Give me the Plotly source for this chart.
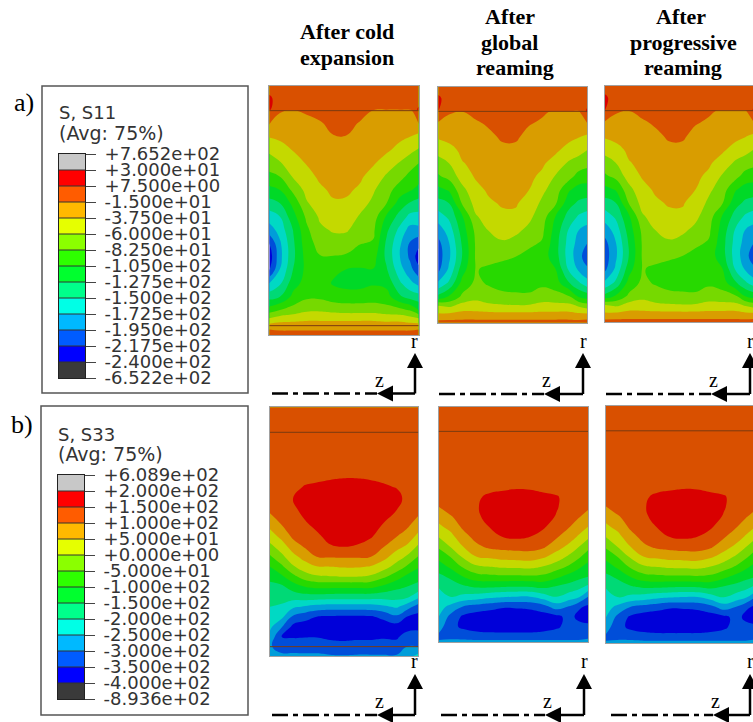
import numpy as np
import plotly.graph_objects as go

W, H = 753, 722

# Contour field values are given in legend-band units: integer k is the lower edge of
# the k-th coloured band counted from the bottom of the legend. Lists are per column.
S11_COLD_X = [28, 60, 100, 140, 180, 220, 260, 300, 340, 380, 420, 450, 476]
S11_COLD_Y = [18, 55, 89, 91, 130, 170, 210, 250, 290, 330, 370, 410, 450, 490, 530, 570, 610, 650, 690, 720, 745, 765]
S11_COLD = [
    [10.5, 11.2, 11.1, 10.4, 10.1, 9.05, 8.2, 7.5, 6.7, 5.7, 4.6, 3.5, 2.5, 1.0, 0.4, 0.9, 3.0, 4.6, 6.5, 8.3, 9.9, 10.5],
    [10.5, 10.5, 10.3, 10.1, 9.6, 9.2, 8.6, 7.9, 7.0, 6.0, 5.0, 4.0, 3.4, 2.85, 2.7, 3.05, 3.85, 5.0, 7.0, 8.7, 9.8, 10.4],
    [10.5, 10.5, 10.2, 10.0, 9.7, 9.4, 9.05, 8.6, 8.1, 7.25, 6.3, 5.65, 5.05, 4.85, 4.8, 5.05, 5.6, 6.3, 7.4, 8.8, 9.8, 10.4],
    [10.5, 10.5, 10.3, 10.1, 9.8, 9.6, 9.35, 9.05, 8.7, 8.3, 7.9, 7.2, 6.8, 6.6, 6.4, 6.3, 6.4, 6.8, 7.8, 8.9, 9.8, 10.4],
    [10.5, 10.5, 10.5, 10.4, 9.9, 9.75, 9.55, 9.35, 9.15, 8.85, 8.5, 8.15, 7.8, 7.35, 6.95, 6.6, 6.5, 6.8, 7.85, 8.9, 9.8, 10.4],
    [10.5, 10.5, 10.5, 10.5, 10.3, 9.95, 9.8, 9.6, 9.35, 9.15, 8.9, 8.45, 8.1, 7.6, 6.95, 6.2, 5.9, 6.5, 7.7, 8.9, 9.8, 10.4],
    [10.5, 10.5, 10.5, 10.5, 10.4, 9.95, 9.8, 9.6, 9.4, 9.15, 8.85, 8.5, 8.1, 7.5, 6.85, 5.95, 5.7, 6.4, 7.6, 8.9, 9.8, 10.4],
    [10.5, 10.5, 10.5, 10.5, 9.9, 9.75, 9.55, 9.35, 9.15, 8.85, 8.35, 7.9, 7.5, 7.05, 6.5, 5.9, 5.7, 6.4, 7.6, 8.9, 9.8, 10.4],
    [10.5, 10.5, 10.2, 10.0, 9.85, 9.6, 9.35, 9.1, 8.6, 8.1, 7.8, 7.5, 7.2, 6.9, 6.4, 5.95, 5.9, 6.5, 7.6, 8.9, 9.8, 10.4],
    [10.5, 10.5, 10.0, 9.95, 9.75, 9.5, 9.15, 8.55, 7.85, 7.4, 7.0, 5.85, 5.2, 4.8, 4.75, 5.1, 5.7, 6.4, 7.4, 8.8, 9.8, 10.4],
    [10.5, 10.5, 10.0, 9.9, 9.6, 9.2, 8.7, 7.9, 7.3, 6.5, 5.55, 4.6, 3.7, 3.15, 3.0, 3.4, 4.15, 5.15, 7.3, 8.8, 9.8, 10.4],
    [10.5, 10.5, 10.0, 9.9, 9.5, 9.0, 8.25, 7.45, 6.7, 6.1, 4.9, 3.7, 2.6, 1.9, 1.8, 2.4, 3.3, 4.6, 6.9, 8.6, 9.8, 10.4],
    [10.5, 10.5, 11.2, 10.4, 10.05, 8.65, 7.9, 7.0, 6.4, 5.7, 4.6, 3.65, 2.7, 1.3, 0.5, 1.3, 2.7, 4.4, 6.0, 8.4, 9.9, 10.5],
]

S11_REAM_X = [25, 57, 97, 137, 177, 217, 257, 297, 337, 377, 417, 447, 472]
S11_REAM_Y = [20, 55, 93, 95, 130, 170, 210, 250, 290, 330, 370, 410, 450, 490, 530, 570, 610, 650, 680, 705, 728]
S11_REAM = [
    [10.5, 11.2, 11.0, 10.4, 9.95, 9.15, 8.35, 7.6, 6.85, 5.7, 4.6, 3.5, 2.5, 1.7, 1.5, 1.8, 3.2, 5.3, 8.3, 9.2, 10.4],
    [10.5, 10.5, 10.2, 10.1, 9.7, 9.3, 8.7, 8.0, 7.3, 6.1, 5.0, 4.2, 3.45, 2.95, 2.8, 3.2, 4.2, 6.1, 7.9, 9.3, 10.4],
    [10.5, 10.5, 10.1, 10.0, 9.75, 9.5, 9.2, 8.95, 8.45, 7.7, 7.1, 5.9, 5.5, 5.15, 5.05, 5.6, 6.4, 7.2, 8.5, 9.4, 10.4],
    [10.5, 10.5, 10.3, 10.2, 9.9, 9.6, 9.4, 9.2, 9.1, 8.7, 8.35, 7.9, 7.25, 7.1, 7.1, 7.05, 7.2, 7.7, 8.5, 9.4, 10.4],
    [10.5, 10.5, 10.4, 10.4, 10.1, 9.85, 9.65, 9.45, 9.25, 9.15, 8.85, 8.4, 8.05, 7.6, 7.25, 6.85, 6.9, 7.4, 8.3, 9.4, 10.4],
    [10.5, 10.5, 10.5, 10.5, 10.4, 10.1, 9.85, 9.65, 9.5, 9.3, 9.1, 8.8, 8.3, 7.9, 7.2, 6.6, 6.6, 7.3, 8.2, 9.4, 10.4],
    [10.5, 10.5, 10.5, 10.5, 10.45, 10.1, 9.85, 9.65, 9.5, 9.3, 9.1, 8.8, 8.2, 7.7, 7.0, 6.5, 6.6, 7.2, 8.15, 9.4, 10.4],
    [10.5, 10.5, 10.5, 10.5, 10.05, 9.8, 9.6, 9.4, 9.2, 9.0, 8.6, 8.2, 7.8, 7.2, 6.7, 6.45, 6.55, 7.2, 8.2, 9.4, 10.4],
    [10.5, 10.5, 10.2, 10.1, 9.9, 9.65, 9.45, 9.15, 8.8, 8.2, 7.8, 7.5, 7.2, 6.9, 6.5, 6.35, 6.8, 7.5, 8.4, 9.4, 10.4],
    [10.5, 10.5, 10.0, 9.9, 9.8, 9.5, 9.2, 8.55, 7.9, 7.5, 7.1, 5.95, 5.6, 5.4, 5.45, 6.05, 6.5, 7.4, 8.4, 9.4, 10.4],
    [10.5, 10.5, 10.0, 9.9, 9.7, 9.3, 8.6, 7.85, 7.35, 6.1, 5.35, 4.6, 3.9, 3.6, 3.5, 3.9, 5.1, 7.1, 8.4, 9.4, 10.4],
    [10.5, 10.5, 10.0, 9.9, 9.6, 9.05, 8.3, 7.6, 6.55, 5.6, 4.8, 3.85, 3.0, 2.6, 2.4, 2.85, 4.15, 5.9, 8.0, 9.3, 10.4],
    [10.5, 10.5, 11.2, 11.1, 10.0, 8.8, 8.0, 7.3, 6.45, 5.55, 4.6, 3.55, 2.65, 2.0, 1.3, 2.25, 3.4, 5.6, 7.65, 9.3, 10.5],
]

S33_COLD_X = [30, 65, 100, 135, 170, 210, 250, 290, 330, 370, 410, 440, 475]
S33_COLD_Y = [22, 100, 180, 235, 260, 295, 330, 370, 410, 440, 470, 500, 530, 560, 590, 620, 650, 680, 710, 740, 768]
S33_COLD = [
    [10.5, 10.5, 10.5, 10.5, 10.5, 10.4, 10.2, 9.4, 8.5, 7.7, 6.85, 6.0, 5.25, 4.75, 4.4, 4.0, 3.6, 3.2, 2.7, 2.1, 2.5],
    [10.5, 10.5, 10.5, 10.5, 10.5, 10.5, 10.5, 10.1, 9.25, 8.5, 7.75, 6.8, 5.8, 4.8, 4.35, 3.85, 3.25, 2.1, 1.0, 1.6, 2.2],
    [10.5, 10.5, 10.5, 10.5, 10.6, 11.05, 10.8, 10.5, 10.2, 9.5, 8.7, 7.9, 6.7, 5.5, 4.45, 3.2, 1.8, 0.7, 0.9, 1.6, 2.2],
    [10.5, 10.5, 10.5, 10.6, 11.1, 11.5, 11.3, 10.9, 10.45, 10.1, 9.4, 8.55, 7.5, 6.0, 4.6, 2.9, 1.4, 0.5, 0.95, 1.5, 2.2],
    [10.5, 10.5, 10.5, 10.7, 11.3, 11.5, 11.5, 11.3, 10.8, 10.5, 10.0, 8.95, 7.85, 6.25, 4.6, 2.65, 1.0, 0.5, 0.95, 1.5, 2.2],
    [10.5, 10.5, 10.5, 10.9, 11.4, 11.5, 11.5, 11.5, 11.3, 10.9, 10.1, 9.0, 7.95, 6.25, 4.55, 2.5, 0.9, 0.4, 0.8, 1.4, 2.1],
    [10.5, 10.5, 10.5, 11.0, 11.5, 11.5, 11.5, 11.5, 11.5, 11.0, 10.1, 9.1, 8.0, 6.25, 4.5, 2.5, 0.85, 0.4, 0.7, 1.4, 2.05],
    [10.5, 10.5, 10.5, 11.0, 11.5, 11.5, 11.5, 11.5, 11.4, 10.9, 10.1, 9.1, 8.0, 6.25, 4.5, 2.5, 0.85, 0.4, 0.8, 1.4, 2.1],
    [10.5, 10.5, 10.5, 10.9, 11.4, 11.5, 11.5, 11.5, 11.1, 10.6, 10.05, 8.95, 7.85, 6.25, 4.5, 2.55, 0.9, 0.45, 0.8, 1.4, 2.1],
    [10.5, 10.5, 10.5, 10.7, 11.2, 11.5, 11.4, 11.0, 10.6, 10.05, 9.35, 8.45, 7.2, 5.8, 4.4, 2.8, 1.2, 0.55, 0.9, 1.4, 2.1],
    [10.5, 10.5, 10.5, 10.5, 10.9, 11.5, 11.0, 10.6, 10.0, 9.3, 8.5, 7.6, 6.4, 5.25, 4.4, 3.15, 1.8, 0.6, 0.85, 1.4, 2.1],
    [10.5, 10.5, 10.5, 10.5, 10.5, 10.6, 10.5, 10.3, 9.6, 8.85, 7.9, 6.9, 5.8, 5.0, 4.25, 2.5, 1.0, 0.6, 1.4, 2.0, 2.6],
    [10.5, 10.5, 10.5, 10.5, 10.5, 10.5, 10.3, 9.6, 8.7, 7.8, 6.95, 6.1, 5.4, 4.65, 3.3, 1.5, 0.7, 0.7, 1.5, 2.0, 3.3],
]

S33_REAM_X = [26, 60, 100, 140, 180, 220, 260, 300, 340, 380, 420, 445, 474]
S33_REAM_Y = [20, 90, 170, 265, 290, 320, 350, 380, 410, 440, 470, 500, 530, 560, 590, 620, 650, 680, 700, 720, 727]
S33_REAM = [
    [10.5, 10.5, 10.5, 10.5, 10.5, 10.0, 9.4, 8.8, 8.05, 7.15, 6.3, 5.5, 4.75, 4.05, 3.7, 3.4, 3.0, 2.4, 2.0, 2.0, 2.3],
    [10.5, 10.5, 10.5, 10.5, 10.5, 10.4, 9.9, 9.3, 8.65, 8.0, 7.0, 6.15, 5.15, 4.5, 4.0, 2.75, 1.75, 1.4, 1.6, 2.05, 2.3],
    [10.5, 10.5, 10.5, 10.5, 10.5, 10.5, 10.4, 10.2, 9.65, 9.0, 8.15, 7.15, 6.0, 4.85, 3.75, 1.95, 0.8, 0.75, 1.45, 2.05, 2.3],
    [10.5, 10.5, 10.5, 10.5, 10.7, 10.9, 10.8, 10.5, 10.35, 9.8, 9.0, 7.85, 6.6, 5.15, 3.55, 1.6, 0.5, 0.5, 1.2, 2.0, 2.3],
    [10.5, 10.5, 10.5, 10.5, 11.4, 11.5, 11.4, 11.05, 10.6, 10.2, 9.2, 8.0, 6.75, 5.15, 3.25, 1.35, 0.4, 0.4, 1.1, 2.0, 2.3],
    [10.5, 10.5, 10.5, 10.8, 11.5, 11.5, 11.5, 11.4, 11.05, 10.3, 9.4, 8.15, 6.8, 5.05, 3.1, 1.1, 0.3, 0.3, 1.1, 2.0, 2.3],
    [10.5, 10.5, 10.5, 10.95, 11.5, 11.5, 11.5, 11.5, 11.15, 10.4, 9.45, 8.2, 6.8, 5.0, 3.0, 1.15, 0.3, 0.3, 1.1, 2.0, 2.3],
    [10.5, 10.5, 10.5, 10.9, 11.5, 11.5, 11.5, 11.5, 11.0, 10.4, 9.5, 8.25, 6.85, 5.05, 3.0, 1.25, 0.35, 0.35, 1.1, 2.0, 2.3],
    [10.5, 10.5, 10.5, 10.6, 11.4, 11.5, 11.5, 11.1, 10.7, 10.15, 9.15, 7.95, 6.75, 5.25, 3.5, 1.65, 0.5, 0.5, 1.2, 2.0, 2.3],
    [10.5, 10.5, 10.5, 10.5, 11.1, 11.1, 10.9, 10.6, 10.1, 9.4, 8.55, 7.45, 6.2, 4.9, 4.1, 2.45, 0.75, 0.8, 1.4, 2.0, 2.3],
    [10.5, 10.5, 10.5, 10.5, 10.5, 10.4, 10.4, 10.0, 9.4, 8.7, 7.75, 6.8, 5.6, 4.6, 3.5, 1.9, 1.35, 1.5, 1.65, 2.0, 2.3],
    [10.5, 10.5, 10.5, 10.5, 10.5, 10.5, 10.1, 9.5, 8.9, 8.05, 7.2, 6.2, 5.3, 4.3, 3.2, 1.2, 0.7, 1.4, 1.6, 2.0, 2.3],
    [10.5, 10.5, 10.5, 10.5, 10.5, 10.2, 9.6, 9.0, 8.2, 7.3, 6.45, 5.65, 5.0, 3.8, 2.0, 0.8, 0.6, 1.2, 1.6, 2.1, 2.5],
]

S11_LABELS = ["-6.522e+02", "-2.400e+02", "-2.175e+02", "-1.950e+02", "-1.725e+02", "-1.500e+02", "-1.275e+02",
              "-1.050e+02", "-8.250e+01", "-6.000e+01", "-3.750e+01", "-1.500e+01", "+7.500e+00", "+3.000e+01", "+7.652e+02"]
S33_LABELS = ["-8.936e+02", "-4.000e+02", "-3.500e+02", "-3.000e+02", "-2.500e+02", "-2.000e+02", "-1.500e+02",
              "-1.000e+02", "-5.000e+01", "+0.000e+00", "+5.000e+01", "+1.000e+02", "+1.500e+02", "+2.000e+02", "+6.089e+02"]
BAND_INDEX = [0, 1, 2, 3, 4, 5, 6, 7, 8, 9, 10, 11, 12, 13]
LEGEND_COLORS = ["#3A3A3A", "#0000FF", "#005CFF", "#00B9FF", "#00FFE6", "#00FF8B", "#00FF2E",
                 "#2EFF00", "#8BFF00", "#E6FF00", "#FFB900", "#FF5C00", "#FF0000", "#C8C8C8"]
FIELD_COLORS = ["#0000D9", "#004ED9", "#009DD9", "#00D9C4", "#00D976", "#00D927",
                "#27D900", "#76D900", "#C4D900", "#D99D00", "#D95000", "#D90000"]
HEADERS = [["After cold", "expansion"], ["After", "global", "reaming"], ["After", "progressive", "reaming"]]


def stepped(colors):
    n = len(colors)
    out = []
    for i, c in enumerate(colors):
        out += [[i / n, c], [(i + 1) / n, c]]
    return out


def dom_x(a, b):
    return [a / W, b / W]


def dom_y(a, b):
    return [1 - b / H, 1 - a / H]


fig = go.Figure()
shapes, notes = [], []
layout_axes = {}
n_ax = 0


def new_axes(x0, x1, y0, y1, xr, yr, **yextra):
    global n_ax
    n_ax += 1
    s = "" if n_ax == 1 else str(n_ax)
    base = dict(showgrid=False, zeroline=False, showticklabels=False, ticks="", showline=True, mirror=True)
    layout_axes["xaxis" + s] = dict(base, domain=dom_x(x0, x1), range=xr, anchor="y" + s, linecolor=yextra.get("linecolor", "#A0A0A0"), linewidth=1)
    ya = dict(base, domain=dom_y(y0, y1), range=yr, anchor="x" + s, linecolor=yextra.get("linecolor", "#A0A0A0"), linewidth=1)
    ya.update({k: v for k, v in yextra.items() if k != "linecolor"})
    layout_axes["yaxis" + s] = ya
    return "x" + s, "y" + s


def panel(xs, ys, cols, box, lines):
    x0, x1, y0, y1 = box
    xr = [xs[0], xs[0] + (x1 - x0) * 3]
    xa, ya = new_axes(x0, x1, y0, y1, xr, [ys[-1], ys[0]])
    fig.add_trace(go.Contour(x=xs, y=ys, z=np.array(cols).T, xaxis=xa, yaxis=ya, showscale=False, hoverinfo="skip",
                             autocontour=False, contours=dict(start=1, end=11, size=1, coloring="fill"),
                             line=dict(width=0, smoothing=1.3), colorscale=stepped(FIELD_COLORS), zmin=0, zmax=12))
    for yy in lines:
        shapes.append(dict(type="line", xref=xa, yref=ya, x0=xr[0], x1=xr[1], y0=yy, y1=yy,
                           line=dict(color="#7A3A10", width=1)))


panel(S11_COLD_X, S11_COLD_Y, S11_COLD, (269.3, 418.7, 86, 335), [92, 737])
panel(S11_REAM_X, S11_REAM_Y, S11_REAM, (438.3, 587.3, 86.7, 322.7), [94])
panel(S11_REAM_X, S11_REAM_Y, S11_REAM, (605, 753, 86, 322), [94])
panel(S33_COLD_X, S33_COLD_Y, S33_COLD, (270, 418.3, 407.3, 656), [97, 740])
panel(S33_REAM_X, S33_REAM_Y, S33_REAM, (438.7, 588, 406.7, 642.3), [94])
panel(S33_REAM_X, S33_REAM_Y, S33_REAM, (606, 753, 406, 643), [94])


def legend(labels, bar, box, title_y):
    bx0, bx1, by0, by1 = box
    shapes.append(dict(type="rect", xref="paper", yref="paper", x0=bx0 / W, x1=bx1 / W, y0=1 - by1 / H, y1=1 - by0 / H,
                       line=dict(color="#555555", width=1.5), fillcolor="white", layer="below"))
    x0, x1, y0, y1 = bar
    xa, ya = new_axes(x0, x1, y0, y1, [0, 1], [0, 14], linecolor="#222222", side="right", showticklabels=True,
                      ticks="outside", ticklen=10, tickcolor="#444444", tickwidth=1,
                      tickmode="array", tickvals=list(range(15)), ticktext=labels,
                      tickfont=dict(family="DejaVu Sans", size=18, color="#333333"), ticklabelstandoff=5)
    fig.add_trace(go.Heatmap(x=[0.5], y=[b + 0.5 for b in BAND_INDEX], z=[[b] for b in BAND_INDEX], xaxis=xa, yaxis=ya,
                             showscale=False, hoverinfo="skip", zmin=-0.5, zmax=13.5, colorscale=stepped(LEGEND_COLORS)))
    for k in range(1, 14):
        shapes.append(dict(type="line", xref=xa, yref=ya, x0=0, x1=1, y0=k, y1=k, line=dict(color="#333333", width=1)))
    text(x0 - 2, title_y[0], title_y[2], "DejaVu Sans", 18, "left", "#333333")
    text(x0 - 2, title_y[1], "(Avg: 75%)", "DejaVu Sans", 19, "left", "#333333")


def text(x, y, s, fam, size, anchor="center", color="black", bold=False):
    notes.append(dict(xref="paper", yref="paper", x=x / W, y=1 - y / H, text=f"<b>{s}</b>" if bold else s, showarrow=False,
                      xanchor=anchor, yanchor="middle", font=dict(family=fam, size=size, color=color)))


legend(S11_LABELS, (59, 85, 154, 378), (42, 248, 86, 393), (113, 133, "S, S11"))
legend(S33_LABELS, (58, 84, 475, 699), (41, 248, 406, 715), (434, 454, "S, S33"))

SERIF = "Liberation Serif"
for s, x, y in [(HEADERS[0][0], 347, 31), (HEADERS[0][1], 347, 57), (HEADERS[1][0], 510, 16), (HEADERS[1][1], 510, 42),
                (HEADERS[1][2], 515, 68), (HEADERS[2][0], 681, 16), (HEADERS[2][1], 683, 42), (HEADERS[2][2], 683, 68)]:
    text(x, y, s, SERIF, 22, bold=True)
text(24, 103, "a)", SERIF, 26)
text(22, 424, "b)", SERIF, 26)


def px(x, y):
    return f"{x / W:.5f} {1 - y / H:.5f}"


def axes_marker(vx, hy, tip_x, start_x, tip_y, r_y, z_y):
    col = "black"
    shapes.append(dict(type="line", xref="paper", yref="paper", x0=start_x / W, x1=tip_x / W, y0=1 - hy / H, y1=1 - hy / H,
                       line=dict(color=col, width=2.5, dash="16px,5px,5px,5px")))
    shapes.append(dict(type="line", xref="paper", yref="paper", x0=(tip_x + 12) / W, x1=vx / W, y0=1 - hy / H, y1=1 - hy / H,
                       line=dict(color=col, width=2.5)))
    shapes.append(dict(type="line", xref="paper", yref="paper", x0=vx / W, x1=vx / W, y0=1 - hy / H, y1=1 - (tip_y + 12) / H,
                       line=dict(color=col, width=2.5)))
    shapes.append(dict(type="path", xref="paper", yref="paper", fillcolor=col, line=dict(width=0),
                       path=f"M {px(vx, tip_y)} L {px(vx - 8, tip_y + 15)} L {px(vx + 8, tip_y + 15)} Z"))
    shapes.append(dict(type="path", xref="paper", yref="paper", fillcolor=col, line=dict(width=0),
                       path=f"M {px(tip_x, hy)} L {px(tip_x + 16, hy - 8)} L {px(tip_x + 16, hy + 8)} Z"))
    text(vx, r_y, "r", SERIF, 20)
    text(tip_x + 2, z_y, "z", SERIF, 20)


axes_marker(415, 393.5, 377, 272, 353, 341, 380)
axes_marker(583, 394, 544, 439, 353, 341, 380)
axes_marker(750, 394, 711, 606, 353, 341, 380)
axes_marker(415, 715, 377, 272, 674, 661, 701)
axes_marker(584, 715, 545, 441, 674, 661, 701)
axes_marker(750, 715, 713, 611, 674, 661, 701)

fig.update_layout(width=W, height=H, margin=dict(l=0, r=0, t=0, b=0, pad=0, autoexpand=False), autosize=False,
                  paper_bgcolor="white", plot_bgcolor="white", showlegend=False, shapes=shapes, annotations=notes,
                  **layout_axes)
fig.write_html("out.html", post_script="document.body.style.margin='0';", config=dict(displayModeBar=False))
